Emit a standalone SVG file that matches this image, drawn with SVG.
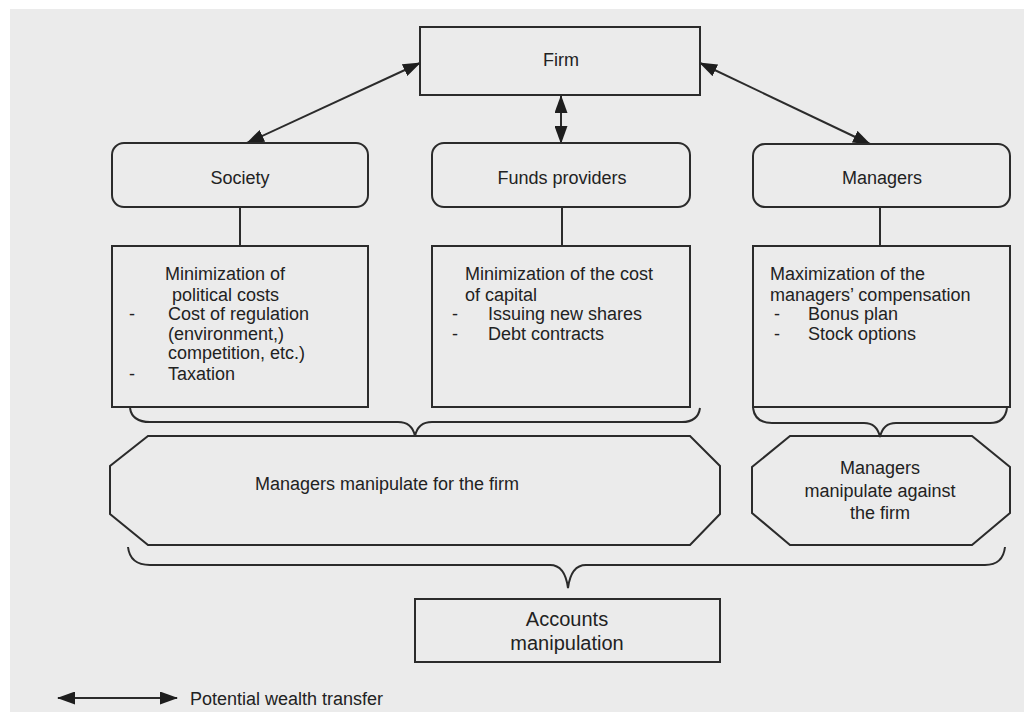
<svg xmlns="http://www.w3.org/2000/svg" width="1024" height="712" viewBox="0 0 1024 712">
<defs>
<style>
.bx{fill:none;stroke:#2b2b2b;stroke-width:2}
.ln{fill:none;stroke:#2b2b2b;stroke-width:2}
.t{font-family:"Liberation Sans",Arial,sans-serif;font-size:18px;fill:#222}
.c{text-anchor:middle}
</style>
<marker id="ah" viewBox="0 0 18 13" refX="17" refY="6.5" markerWidth="18" markerHeight="13" orient="auto-start-reverse" markerUnits="userSpaceOnUse">
<path d="M0,0 L18,6.5 L0,13 z" fill="#1e1e1e"/>
</marker>
</defs>
<rect x="0" y="0" width="1024" height="712" fill="#ffffff"/>
<rect x="10" y="9" width="1014" height="703" fill="#ebebeb"/>

<g id="connectors">
<line class="ln" x1="247" y1="143" x2="420" y2="63" marker-start="url(#ah)" marker-end="url(#ah)"/>
<line class="ln" x1="700" y1="63" x2="870" y2="144" marker-start="url(#ah)" marker-end="url(#ah)"/>
<line class="ln" x1="561" y1="96" x2="561" y2="143" marker-start="url(#ah)" marker-end="url(#ah)"/>
<line class="ln" x1="240" y1="207" x2="240" y2="246"/>
<line class="ln" x1="562" y1="207" x2="562" y2="246"/>
<line class="ln" x1="880" y1="207" x2="880" y2="246"/>
<path class="ln" d="M130,408 Q132,422 150,422 L398,422 Q412,422 415,436 Q418,422 432,422 L682,422 Q698,422 700,408"/>
<path class="ln" d="M753,408 Q755,423 772,423 L864,423 Q877,423 880,437 Q883,423 896,423 L990,423 Q1005,423 1007,408"/>
<path class="ln" d="M128,547 Q130,565 150,565 L550,565 Q565,565 568,588 Q571,565 586,565 L985,565 Q1003,565 1005,547"/>
</g>

<g id="firm">
<rect class="bx" x="420" y="27" width="280" height="68"/>
<text class="t c" x="561" y="66">Firm</text>
</g>

<g id="society">
<rect class="bx" x="112" y="143" width="256" height="64" rx="12"/>
<text class="t c" x="240" y="184">Society</text>
</g>

<g id="funds">
<rect class="bx" x="432" y="143" width="258" height="64" rx="12"/>
<text class="t c" x="562" y="184">Funds providers</text>
</g>

<g id="managers">
<rect class="bx" x="753" y="144" width="257" height="63" rx="12"/>
<text class="t c" x="882" y="184">Managers</text>
</g>

<g id="society-detail">
<rect class="bx" x="112" y="246" width="256" height="161"/>
<text class="t" x="165" y="280">Minimization of</text>
<text class="t" x="172" y="301">political costs</text>
<text class="t" x="129" y="320">-</text>
<text class="t" x="168" y="320">Cost of regulation</text>
<text class="t" x="168" y="340">(environment,)</text>
<text class="t" x="168" y="359">competition, etc.)</text>
<text class="t" x="129" y="380">-</text>
<text class="t" x="168" y="380">Taxation</text>
</g>

<g id="funds-detail">
<rect class="bx" x="432" y="246" width="258" height="161"/>
<text class="t" x="465" y="280">Minimization of the cost</text>
<text class="t" x="465" y="301">of capital</text>
<text class="t" x="452" y="320">-</text>
<text class="t" x="488" y="320">Issuing new shares</text>
<text class="t" x="452" y="340">-</text>
<text class="t" x="488" y="340">Debt contracts</text>
</g>

<g id="managers-detail">
<rect class="bx" x="753" y="246" width="257" height="161"/>
<text class="t" x="770" y="280">Maximization of the</text>
<text class="t" x="770" y="301">managers’ compensation</text>
<text class="t" x="774" y="320">-</text>
<text class="t" x="808" y="320">Bonus plan</text>
<text class="t" x="774" y="340">-</text>
<text class="t" x="808" y="340">Stock options</text>
</g>

<g id="for-firm">
<path class="bx" d="M148,436 L690,436 L720,466 L720,514 L690,545 L148,545 L110,514 L110,466 Z"/>
<text class="t c" x="387" y="490">Managers manipulate for the firm</text>
</g>

<g id="against-firm">
<path class="bx" d="M790,436 L972,436 L1010,467 L1010,513 L972,545 L790,545 L752,513 L752,467 Z"/>
<text class="t c" x="880" y="474">Managers</text>
<text class="t c" x="880" y="497">manipulate against</text>
<text class="t c" x="880" y="519">the firm</text>
</g>

<g id="accounts">
<rect class="bx" x="415" y="599" width="305" height="63"/>
<text class="t c" x="567" y="626" style="font-size:20px">Accounts</text>
<text class="t c" x="567" y="650" style="font-size:20px">manipulation</text>
</g>

<g id="legend">
<line class="ln" x1="58" y1="698" x2="177" y2="698" marker-start="url(#ah)" marker-end="url(#ah)"/>
<text class="t" x="190" y="705">Potential wealth transfer</text>
</g>
</svg>
